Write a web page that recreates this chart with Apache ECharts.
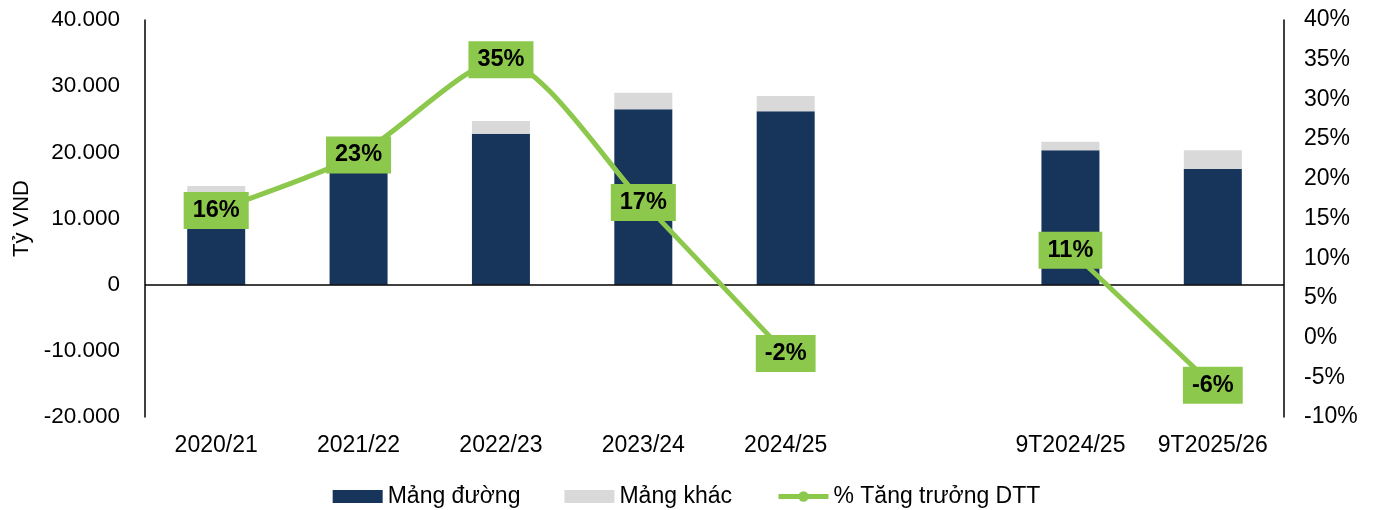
<!DOCTYPE html>
<html>
<head>
<meta charset="utf-8">
<script src="https://cdn.jsdelivr.net/npm/echarts@6/dist/echarts.min.js"></script>
<style>
  html, body { margin: 0; padding: 0; background: #fff; }
  #chart { width: 1373px; height: 510px; }
</style>
</head>
<body>
<div id="chart"></div>
<script>
// Niên độ (blank slot separates full years from 9-month periods)
const categories = ['2020/21', '2021/22', '2022/23', '2023/24', '2024/25', '', '9T2024/25', '9T2025/26'];
// Doanh thu thuần theo mảng, tỷ VND
const sugarRevenue = [14000, 17200, 22800, 26500, 26200, null, 20300, 17500];
const otherRevenue = [900, 1000, 1950, 2500, 2300, null, 1300, 2800];
// Tăng trưởng doanh thu thuần, %
const growthPct = [16, 23, 35, 17, -2, null, 11, -6];

const FONT = 'Liberation Sans, Arial, sans-serif';
const GREEN = '#8cc84b';

const chart = echarts.init(document.getElementById('chart'), null, { renderer: 'canvas' });

const fmtThousands = v => {
  const s = Math.abs(v).toString().replace(/\B(?=(\d{3})+(?!\d))/g, '.');
  return (v < 0 ? '-' : '') + s;
};

chart.setOption({
  animation: false,
  textStyle: { fontFamily: FONT },
  grid: { left: 145, right: 89, top: 20, bottom: 93 },
  legend: {
    top: 480,
    left: 'center',
    itemWidth: 50,
    itemHeight: 13,
    itemGap: 44,
    textStyle: { fontFamily: FONT, fontSize: 23, color: '#000' },
    data: [
      { name: 'Mảng đường', icon: 'rect' },
      { name: 'Mảng khác', icon: 'rect' },
      { name: '% Tăng trưởng DTT', lineStyle: { width: 5, color: GREEN } }
    ]
  },
  xAxis: {
    type: 'category',
    data: categories,
    axisLine: { show: false, onZero: false },
    axisTick: { show: false },
    axisLabel: { color: '#000', fontSize: 23, fontFamily: FONT, margin: 17, interval: 0 }
  },
  yAxis: [
    {
      type: 'value',
      min: -20000,
      max: 40000,
      interval: 10000,
      name: 'Tỷ VND',
      nameLocation: 'middle',
      nameGap: 111,
      nameRotate: 90,
      nameTextStyle: { color: '#000', fontSize: 22, fontFamily: FONT },
      axisLine: { show: true, lineStyle: { color: '#000', width: 1.5 } },
      axisTick: { show: false },
      splitLine: { show: false },
      axisLabel: { color: '#000', fontSize: 22.5, fontFamily: FONT, margin: 25, formatter: fmtThousands }
    },
    {
      type: 'value',
      min: -10,
      max: 40,
      interval: 5,
      position: 'right',
      axisLine: { show: true, lineStyle: { color: '#000', width: 1.5 } },
      axisTick: { show: false },
      splitLine: { show: false },
      axisLabel: { color: '#000', fontSize: 23, fontFamily: FONT, margin: 20, formatter: v => v + '%' }
    }
  ],
  series: [
    {
      name: 'Mảng đường',
      type: 'bar',
      stack: 'dtt',
      barWidth: 58,
      data: sugarRevenue,
      itemStyle: { color: '#17345b' },
      markLine: {
        silent: true,
        symbol: 'none',
        label: { show: false },
        lineStyle: { color: '#000', width: 1.5, type: 'solid' },
        data: [{ yAxis: 0 }]
      }
    },
    {
      name: 'Mảng khác',
      type: 'bar',
      stack: 'dtt',
      barWidth: 58,
      data: otherRevenue,
      itemStyle: { color: '#d9d9d9' }
    },
    {
      name: '% Tăng trưởng DTT',
      type: 'line',
      yAxisIndex: 1,
      data: growthPct,
      smooth: 0.25,
      connectNulls: false,
      symbol: 'circle',
      symbolSize: 12,
      z: 5,
      lineStyle: { color: GREEN, width: 5 },
      itemStyle: { color: GREEN },
      label: {
        show: true,
        position: 'inside',
        formatter: p => p.value + '%',
        backgroundColor: GREEN,
        color: '#000',
        fontWeight: 'bold',
        fontSize: 23.5,
        lineHeight: 25,
        fontFamily: FONT,
        padding: [6, 9, 6, 9]
      }
    }
  ]
});
</script>
</body>
</html>
